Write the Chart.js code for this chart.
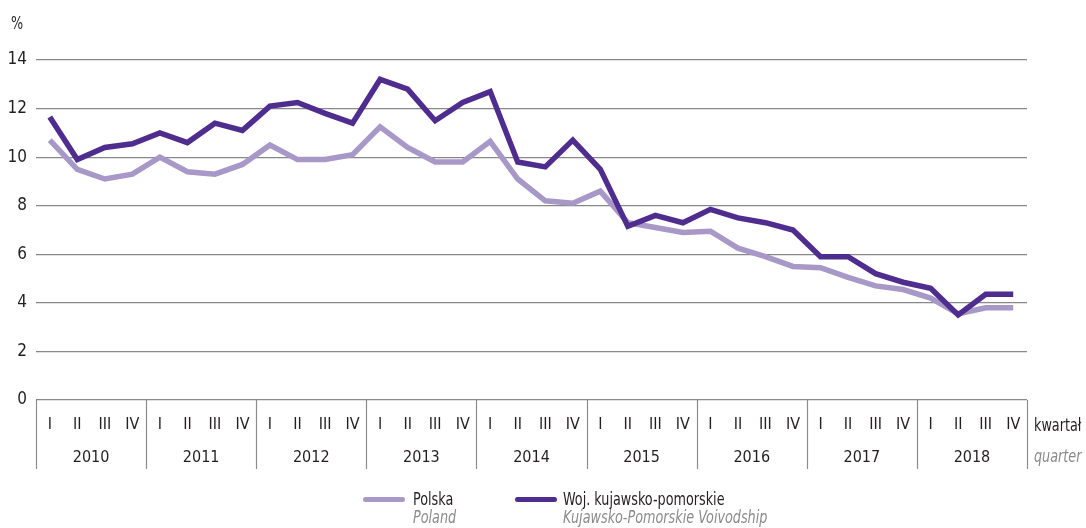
<!DOCTYPE html>
<html>
<head>
<meta charset="utf-8">
<script src="https://cdn.jsdelivr.net/npm/chart.js@4.4.1/dist/chart.umd.min.js"></script>
<style>
  html, body { margin: 0; padding: 0; background: #ffffff; }
  #wrap { position: relative; width: 1086px; height: 528px; overflow: hidden;
          font-family: 'DejaVu Sans Condensed', 'DejaVu Sans', sans-serif; }
  canvas { position: absolute; left: 0; top: 0; }
  .t { position: absolute; white-space: nowrap; font-size: 18px; line-height: 18px; color: #231f20;
       transform: scaleX(0.79); transform-origin: 0 0; }
  .it { font-style: italic; color: #8a8a8a; }
  .sw { position: absolute; height: 5px; border-radius: 3px; }
</style>
</head>
<body>
<div id="wrap">
  <canvas id="c" width="1086" height="528"></canvas>
  <div class="t" style="left:11px; top:14px;">%</div>
  <div class="t" style="left:1034px; top:416px;">kwartał</div>
  <div class="t it" style="left:1034px; top:447px;">quarter</div>
  <div class="sw" style="left:363px; top:497px; width:42px; background:#a898c8;"></div>
  <div class="t" style="left:413px; top:490px;">Polska</div>
  <div class="t it" style="left:413px; top:508px;">Poland</div>
  <div class="sw" style="left:515px; top:497px; width:42px; background:#4f2d8f;"></div>
  <div class="t" style="left:563px; top:490px;">Woj. kujawsko-pomorskie</div>
  <div class="t it" style="left:563px; top:508px;">Kujawsko-Pomorskie Voivodship</div>
</div>
<script>
const years = ['2010','2011','2012','2013','2014','2015','2016','2017','2018'];
const quarterNames = ['I','II','III','IV'];
const quarters = [];
years.forEach(() => quarterNames.forEach(q => quarters.push(q)));

const polska = [
  10.7, 9.5, 9.1, 9.3,
  10.0, 9.4, 9.3, 9.7,
  10.5, 9.9, 9.9, 10.1,
  11.25, 10.4, 9.8, 9.8,
  10.65, 9.1, 8.2, 8.1,
  8.6, 7.3, 7.1, 6.9,
  6.95, 6.25, 5.9, 5.5,
  5.45, 5.05, 4.7, 4.55,
  4.2, 3.55, 3.8, 3.8
];
const kujawsko = [
  11.65, 9.9, 10.4, 10.55,
  11.0, 10.6, 11.4, 11.1,
  12.1, 12.25, 11.8, 11.4,
  13.2, 12.8, 11.5, 12.25,
  12.7, 9.8, 9.6, 10.7,
  9.5, 7.15, 7.6, 7.3,
  7.85, 7.5, 7.3, 7.0,
  5.9, 5.9, 5.2, 4.85,
  4.6, 3.5, 4.35, 4.35
];

const FONT = "'DejaVu Sans Condensed', 'DejaVu Sans', sans-serif";

const separators = {
  id: 'separators',
  afterDraw(chart) {
    const xs = chart.scales.x;
    const ctx = chart.ctx;
    const top = chart.chartArea.bottom;
    ctx.save();
    ctx.strokeStyle = '#8c8c8c';
    ctx.lineWidth = 1.2;
    for (let k = 0; k <= years.length; k++) {
      const px = Math.round(xs.getPixelForValue(k * 4 - 0.5)) + 0.5;
      ctx.beginPath();
      ctx.moveTo(px, top);
      ctx.lineTo(px, top + 69);
      ctx.stroke();
    }
    ctx.restore();
  }
};

new Chart(document.getElementById('c'), {
  type: 'line',
  data: {
    labels: quarters,
    datasets: [
      { label: 'Woj. kujawsko-pomorskie', data: kujawsko, borderColor: '#4f2d8f', backgroundColor: '#4f2d8f',
        borderWidth: 5.5, pointRadius: 0, tension: 0, borderJoinStyle: 'miter', borderCapStyle: 'butt', xAxisID: 'x' },
      { label: 'Polska', data: polska, borderColor: '#a898c8', backgroundColor: '#a898c8',
        borderWidth: 5.5, pointRadius: 0, tension: 0, borderJoinStyle: 'miter', borderCapStyle: 'butt', xAxisID: 'x' }
    ]
  },
  options: {
    responsive: false,
    animation: false,
    events: [],
    layout: { padding: { top: 60, right: 59, bottom: 58, left: 0 } },
    plugins: { legend: { display: false }, tooltip: { enabled: false } },
    scales: {
      y: {
        min: 0, max: 14,
        ticks: { stepSize: 2, color: '#231f20', font: { family: FONT, size: 17 }, padding: 9 },
        grid: { color: '#888888', lineWidth: 1.2, drawTicks: false },
        border: { display: false },
        afterFit(s) { s.width = 36; }
      },
      x: {
        type: 'category',
        offset: true,
        position: 'bottom',
        grid: { display: false, drawTicks: false },
        border: { display: false },
        ticks: { color: '#231f20', font: { family: FONT, size: 16 }, padding: 15, maxRotation: 0, autoSkip: false },
        afterFit(s) { s.height = 40; }
      },
      x2: {
        type: 'category',
        labels: years,
        offset: true,
        position: 'bottom',
        grid: { display: false, drawTicks: false },
        border: { display: false },
        ticks: { color: '#231f20', font: { family: FONT, size: 16 }, padding: 8, maxRotation: 0, autoSkip: false },
        afterFit(s) { s.height = 30; }
      }
    }
  },
  plugins: [separators]
});
</script>
</body>
</html>
